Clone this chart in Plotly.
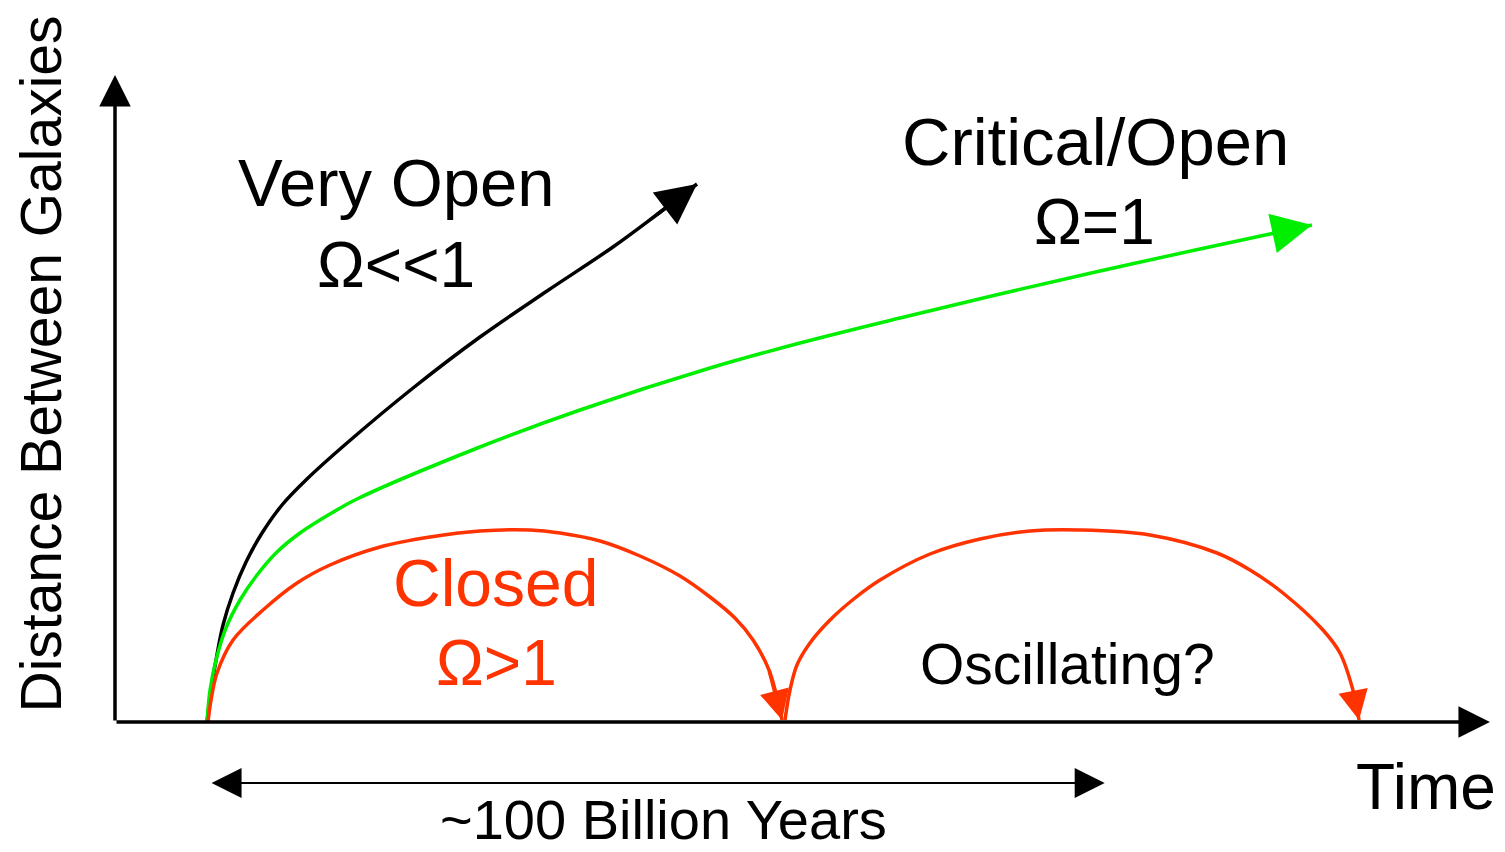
import plotly.graph_objects as go

# ---- data (time in billions of years, distance in arbitrary units) ----
very_open_t = [0.00, 0.45, 1.01, 1.79, 2.91, 4.36, 6.15, 8.38, 11.17, 15.64, 23.02, 30.50, 37.99, 45.36, 50.06, 54.75]
very_open_d = [0.00, 0.32, 0.62, 0.97, 1.29, 1.60, 1.89, 2.17, 2.43, 2.79, 3.34, 3.85, 4.31, 4.75, 5.06, 5.38]

critical_t = [0.00, 0.34, 1.01, 2.12, 3.69, 5.59, 7.82, 10.39, 13.74, 16.76, 30.50, 41.68, 56.20, 66.26, 77.43, 88.60, 99.78, 110.95, 118.77, 123.46]
critical_d = [0.00, 0.32, 0.62, 0.94, 1.22, 1.47, 1.70, 1.89, 2.08, 2.23, 2.75, 3.12, 3.54, 3.79, 4.04, 4.28, 4.51, 4.73, 4.88, 4.97]

closed_t = [0.11, 0.45, 1.12, 2.91, 6.26, 10.06, 13.74, 19.33, 24.92, 30.50, 36.09, 39.44, 43.91, 48.38, 52.85, 56.20, 58.99, 61.01, 62.79, 64.25]
closed_d = [0.00, 0.22, 0.49, 0.82, 1.12, 1.39, 1.57, 1.75, 1.85, 1.91, 1.92, 1.89, 1.81, 1.66, 1.46, 1.25, 1.04, 0.82, 0.52, 0.02]

osc_t = [64.58, 65.14, 65.92, 67.37, 69.61, 72.40, 75.20, 80.78, 86.37, 91.96, 97.54, 105.36, 112.85, 116.54, 120.22, 124.69, 126.59, 128.04, 128.72]
osc_d = [0.02, 0.32, 0.57, 0.79, 1.02, 1.24, 1.42, 1.68, 1.83, 1.91, 1.92, 1.87, 1.69, 1.52, 1.29, 0.92, 0.69, 0.32, 0.02]

span_start, span_end, span_level = 0.34, 100.3, -0.61   # "~100 Billion Years"
axis_t0, axis_t1, axis_d1 = -10.28, 143.35, 6.47

BLACK = "#000000"
GREEN = "#00ee00"
RED = "#ff3300"
FONT = "Liberation Sans, Arial, sans-serif"

fig = go.Figure()
for t, d, c in [(very_open_t, very_open_d, BLACK), (critical_t, critical_d, GREEN),
                (closed_t, closed_d, RED), (osc_t, osc_d, RED)]:
    fig.add_trace(go.Scatter(x=t, y=d, mode="lines",
                             line=dict(color=c, width=3.5, shape="spline", smoothing=1),
                             hoverinfo="skip", showlegend=False))

ann = []
def arrow(x, y, ax, ay, color, width, size, head=2, side="end"):
    ann.append(dict(x=x, y=y, ax=ax, ay=ay, xref="x", yref="y", axref="x", ayref="y",
                    text="", showarrow=True, arrowhead=head, startarrowhead=head, arrowside=side,
                    arrowcolor=color, arrowwidth=width, arrowsize=size, startarrowsize=size,
                    standoff=0, startstandoff=0))

# curve arrowheads
arrow(very_open_t[-1], very_open_d[-1], very_open_t[-2], very_open_d[-2], BLACK, 3.5, 2.3)
arrow(critical_t[-1], critical_d[-1], critical_t[-2], critical_d[-2], GREEN, 3.5, 2.3)
arrow(closed_t[-1], closed_d[-1], closed_t[-2], closed_d[-2], RED, 3.5, 1.7)
arrow(osc_t[-1], osc_d[-1], osc_t[-2], osc_d[-2], RED, 3.5, 1.7)
# axes
arrow(axis_t0, axis_d1, axis_t0, 0, BLACK, 3.5, 1.8)
arrow(axis_t1, 0, axis_t0, 0, BLACK, 3.5, 1.8)
# span arrow
arrow(span_end, span_level, span_start, span_level, BLACK, 2, 3.0, side="end+start")

def label(x, y, s, size, color=BLACK, angle=0):
    ann.append(dict(x=x, y=y, xref="x", yref="y", text=s, showarrow=False, textangle=angle,
                    font=dict(family=FONT, size=size, color=color), xanchor="center", yanchor="middle"))

label(21.17, 5.40, "Very Open", 67)
label(21.17, 4.57, "Ω<<1", 64)
label(99.27, 5.81, "Critical/Open", 67)
label(99.2, 5.00, "Ω=1", 64)
label(32.23, 1.39, "Closed", 66, RED)
label(32.35, 0.59, "Ω>1", 64, RED)
label(96.15, 0.58, "Oscillating?", 57)
label(136.2, -0.65, "Time", 64)
label(51.0, -0.97, "~100 Billion Years", 56)
label(-18.55, 3.585, "Distance Between Galaxies", 57, angle=-90)

fig.update_layout(
    width=1505, height=852, margin=dict(l=0, r=0, t=0, b=0),
    paper_bgcolor="white", plot_bgcolor="white",
    xaxis=dict(range=[-23.13, 145.03], visible=False, fixedrange=True),
    yaxis=dict(range=[-1.30, 7.22], visible=False, fixedrange=True),
    annotations=ann, showlegend=False,
)
fig.write_html("out.html", config={"displayModeBar": False},
               post_script="document.body.style.margin='0';document.body.style.overflow='hidden';")
